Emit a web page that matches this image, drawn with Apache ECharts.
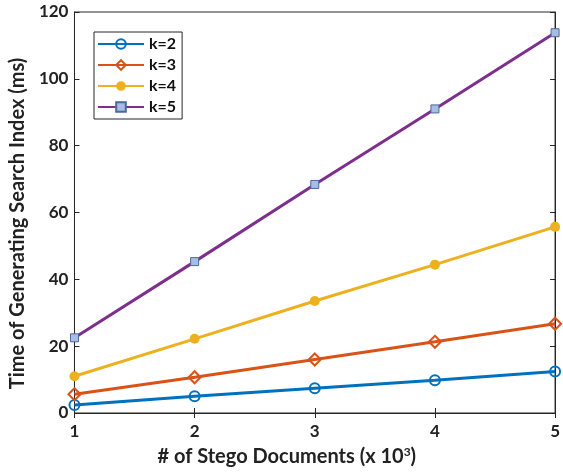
<!DOCTYPE html>
<html>
<head>
<meta charset="utf-8">
<script src="https://cdn.jsdelivr.net/npm/echarts@6/dist/echarts.min.js"></script>
<style>
  html, body { margin: 0; padding: 0; background: #fff; }
  #chart { width: 563px; height: 472px; }
</style>
</head>
<body>
<div id="chart"></div>
<script>
const docs = [1, 2, 3, 4, 5]
const k2 = [2.4, 5.0, 7.4, 9.8, 12.4]
const k3 = [5.6, 10.7, 16.0, 21.3, 26.7]
const k4 = [11.0, 22.2, 33.5, 44.4, 55.7]
const k5 = [22.5, 45.3, 68.4, 91.0, 113.8]
const seriesNames = ['k=2', 'k=3', 'k=4', 'k=5']

const font = 'Lato, "Open Sans", sans-serif'
const axisColor = '#262626'

const pairs = (ys) => docs.map((x, i) => [x, ys[i]])

const chart = echarts.init(document.getElementById('chart'))

const option = {
  animation: false,
  backgroundColor: '#fff',
  grid: {
    left: 73,
    right: 5,
    top: 12,
    bottom: 55,
    show: true,
    borderColor: axisColor,
    borderWidth: 1
  },
  legend: {
    data: seriesNames,
    orient: 'vertical',
    left: 94,
    top: 32,
    itemWidth: 46,
    itemHeight: 12,
    itemGap: 5,
    padding: [4, 6, 4, 3],
    backgroundColor: '#fff',
    borderColor: axisColor,
    borderWidth: 1,
    textStyle: {
      fontFamily: font,
      fontWeight: 'bold',
      fontSize: 16,
      color: '#111'
    }
  },
  xAxis: [{
    type: 'value',
    min: 1,
    max: 5,
    interval: 1,
    name: '# of Stego Documents (x 10{sup|3})',
    nameLocation: 'middle',
    nameGap: 33,
    nameTextStyle: {
      fontFamily: font,
      fontWeight: 'bold',
      fontSize: 20,
      color: '#222',
      padding: [0, 56, 0, 0],
      rich: {
        sup: { fontFamily: font, fontWeight: 'bold', fontSize: 12, color: '#222', verticalAlign: 'top', padding: [0, 0, 10, 0] }
      }
    },
    axisLine: { show: true, lineStyle: { color: axisColor } },
    axisTick: { show: true, inside: true, length: 5, lineStyle: { color: axisColor } },
    axisLabel: { fontFamily: font, fontWeight: 'bold', fontSize: 17, color: '#222', margin: 10 },
    splitLine: { show: false }
  }, {
    type: 'value',
    position: 'top',
    min: 1,
    max: 5,
    interval: 1,
    axisLine: { show: true, lineStyle: { color: axisColor } },
    axisTick: { show: true, inside: true, length: 5, lineStyle: { color: axisColor } },
    axisLabel: { show: false },
    splitLine: { show: false }
  }],
  yAxis: [{
    type: 'value',
    min: 0,
    max: 120,
    interval: 20,
    name: 'Time of Generating Search Index (ms)',
    nameLocation: 'middle',
    nameGap: 41,
    nameTextStyle: {
      fontFamily: font,
      fontWeight: 'bold',
      fontSize: 20,
      color: '#222',
      padding: [0, 22, 0, 0]
    },
    axisLine: { show: true, lineStyle: { color: axisColor } },
    axisTick: { show: true, inside: true, length: 5, lineStyle: { color: axisColor } },
    axisLabel: { fontFamily: font, fontWeight: 'bold', fontSize: 17, color: '#222', margin: 6 },
    splitLine: { show: false }
  }, {
    type: 'value',
    position: 'right',
    min: 0,
    max: 120,
    interval: 20,
    axisLine: { show: true, lineStyle: { color: axisColor } },
    axisTick: { show: true, inside: true, length: 5, lineStyle: { color: axisColor } },
    axisLabel: { show: false },
    splitLine: { show: false }
  }],
  series: [
    {
      name: 'k=2',
      type: 'line',
      data: pairs(k2),
      color: '#0072BD',
      lineStyle: { width: 3, color: '#0072BD' },
      symbol: 'circle',
      symbolSize: 10,
      itemStyle: { color: 'rgba(255,255,255,0)', borderColor: '#0072BD', borderWidth: 2 }
    },
    {
      name: 'k=3',
      type: 'line',
      data: pairs(k3),
      color: '#D95319',
      lineStyle: { width: 3, color: '#D95319' },
      symbol: 'diamond',
      symbolSize: 12,
      itemStyle: { color: 'rgba(255,255,255,0)', borderColor: '#D95319', borderWidth: 2 }
    },
    {
      name: 'k=4',
      type: 'line',
      data: pairs(k4),
      color: '#EDB120',
      lineStyle: { width: 3, color: '#EDB120' },
      symbol: 'circle',
      symbolSize: 10
    },
    {
      name: 'k=5',
      type: 'line',
      data: pairs(k5),
      color: '#7E2F8E',
      lineStyle: { width: 3, color: '#7E2F8E' },
      symbol: 'rect',
      symbolSize: 8,
      itemStyle: { color: '#a8bde6', borderColor: '#4a6a9a', borderWidth: 1 }
    }
  ]
}

chart.setOption(option)
</script>
</body>
</html>
